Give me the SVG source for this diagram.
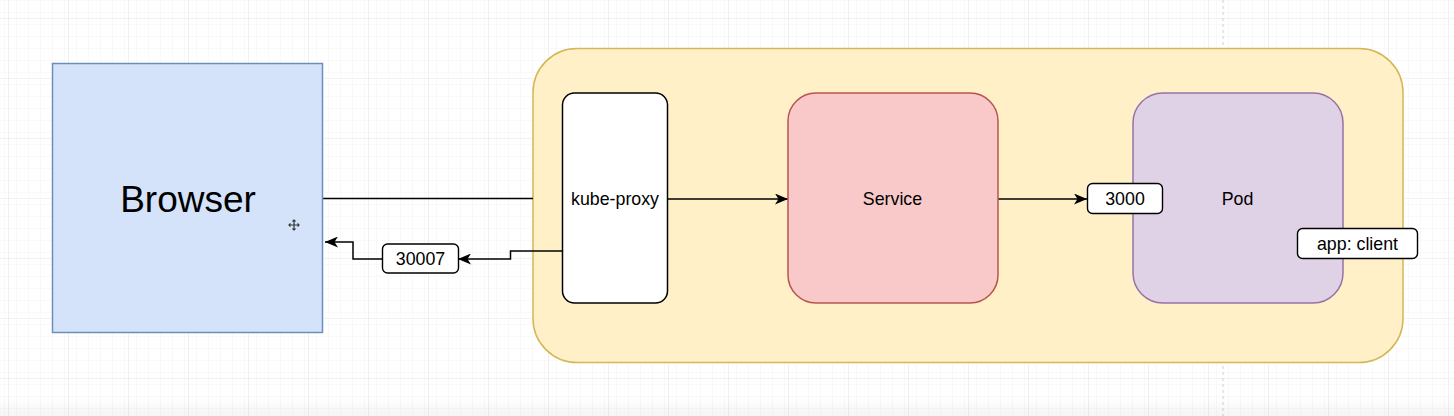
<svg xmlns="http://www.w3.org/2000/svg" width="1454" height="416" viewBox="0 0 1454 416">
  <style>
    .lbl { font-family: "Liberation Sans", Arial, Helvetica, sans-serif; fill: #000; text-anchor: middle; dominant-baseline: central; }
    .conn { fill: none; stroke: #000; stroke-width: 1.5; }
    .tag { fill: #fff; stroke: #000; stroke-width: 1.4; }
  </style>
  <defs>
    <pattern id="minor" x="8" y="18" width="12" height="12" patternUnits="userSpaceOnUse">
      <path d="M0,0 H12 M0,0 V12" fill="none" stroke="#f3f3f3" stroke-width="1"/>
    </pattern>
    <pattern id="major" x="8" y="18" width="60" height="60" patternUnits="userSpaceOnUse">
      <rect width="60" height="60" fill="url(#minor)"/>
      <path d="M0,0 H60 M0,0 V60" fill="none" stroke="#e6e6e6" stroke-width="1.2"/>
    </pattern>
    <linearGradient id="shade" x1="0" y1="0" x2="0" y2="1">
      <stop offset="0" stop-color="#000" stop-opacity="0"/>
      <stop offset="1" stop-color="#000" stop-opacity="0.04"/>
    </linearGradient>
    <marker id="arr" viewBox="0 0 13 11" refX="13" refY="5.5" markerWidth="13" markerHeight="11" markerUnits="userSpaceOnUse" orient="auto">
      <path d="M0,0 L13,5.5 L0,11 L3.5,5.5 Z" fill="#000"/>
    </marker>
  </defs>

  <rect width="1454" height="416" fill="#fff"/>
  <rect width="1454" height="416" fill="url(#major)"/>
  <line x1="1223" y1="0" x2="1223" y2="416" stroke="#cfcfcf" stroke-width="1" stroke-dasharray="3,3"/>
  <rect x="0" y="396" width="1454" height="20" fill="url(#shade)"/>

  <g id="cluster">
    <rect x="533" y="48.5" width="870" height="314" rx="44" ry="44" fill="#fff0c7" stroke="#d6b656" stroke-width="1.5"/>
  </g>

  <g id="connectors">
    <path class="conn" d="M323,198.5 H533"/>
    <path class="conn" d="M668,199 H788" marker-end="url(#arr)"/>
    <path class="conn" d="M998,199 H1087" marker-end="url(#arr)"/>
    <path class="conn" d="M562,251 H510.5 V259 H458" marker-end="url(#arr)"/>
    <path class="conn" d="M382,259 H353 V242 H325" marker-end="url(#arr)"/>
  </g>

  <g id="browser">
    <rect x="52.5" y="63.5" width="270" height="269" fill="#d4e3fa" stroke="#6c8ebf" stroke-width="1.5"/>
    <text class="lbl" x="188" y="199" font-size="37">Browser</text>
  </g>

  <g id="cursor" stroke="#333" stroke-width="1.2" fill="none">
    <path d="M294,220 V230 M289,225 H299"/>
    <path d="M292.5,221.5 L294,220 L295.5,221.5 M292.5,228.5 L294,230 L295.5,228.5 M290.5,223.5 L289,225 L290.5,226.5 M297.5,223.5 L299,225 L297.5,226.5"/>
  </g>

  <g id="kube-proxy">
    <rect x="562.5" y="93" width="105" height="210" rx="12" ry="12" fill="#fff" stroke="#000" stroke-width="1.5"/>
    <text class="lbl" x="615" y="199" font-size="17.8">kube-proxy</text>
  </g>

  <g id="service">
    <rect x="788" y="93" width="210" height="210" rx="28" ry="28" fill="#f8c9c8" stroke="#b85450" stroke-width="1.5"/>
    <text class="lbl" x="892.5" y="199" font-size="17.8">Service</text>
  </g>

  <g id="pod">
    <rect x="1133" y="93" width="210" height="210" rx="30" ry="30" fill="#e0d2e6" stroke="#9673a6" stroke-width="1.5"/>
    <text class="lbl" x="1237.5" y="199" font-size="17.8">Pod</text>
  </g>

  <g id="port-3000">
    <rect class="tag" x="1087.5" y="183.5" width="75" height="30" rx="5" ry="5"/>
    <text class="lbl" x="1125" y="199" font-size="17.8">3000</text>
  </g>

  <g id="label-app-client">
    <rect class="tag" x="1297.5" y="228.5" width="120" height="30" rx="5" ry="5"/>
    <text class="lbl" x="1357.5" y="244" font-size="17.8">app: client</text>
  </g>

  <g id="nodeport-30007">
    <rect class="tag" x="382.5" y="244" width="76" height="29" rx="5" ry="5"/>
    <text class="lbl" x="420.5" y="259" font-size="17.8">30007</text>
  </g>
</svg>
